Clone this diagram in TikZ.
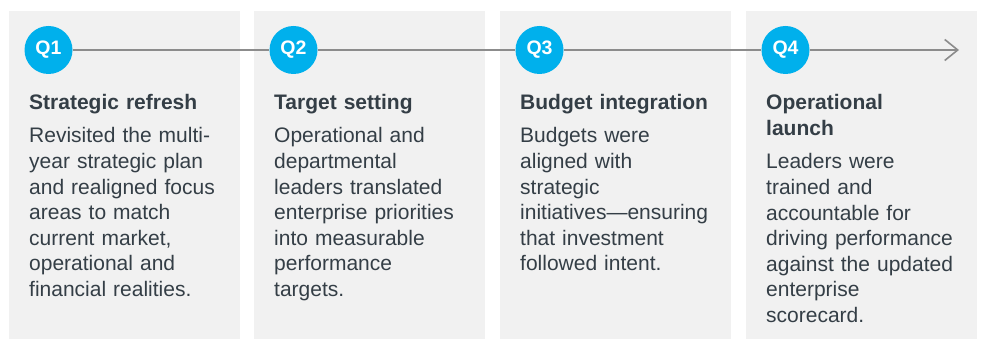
\documentclass[tikz,border=0pt]{standalone}
\usepackage{fontspec}
\setmainfont{Liberation Sans}
\usepackage{tikz}
\usetikzlibrary{positioning}
\usetikzlibrary{arrows.meta}

\definecolor{panelgray}{HTML}{F1F1F1}
\definecolor{qcyan}{HTML}{00B0EC}
\definecolor{linegray}{HTML}{8C8C8C}
\definecolor{slate}{HTML}{343E46}

\begin{document}
\begin{tikzpicture}[x=1pt,y=1pt,
  panel/.style={fill=panelgray,draw=none},
  qmark/.style={circle,fill=qcyan,text=white,minimum size=48pt,inner sep=0pt,font=\fontsize{19.5}{21}\selectfont\bfseries},
  timeline/.style={draw=linegray,line width=2pt},
  phase/.style={font=\fontsize{21}{26}\selectfont\bfseries,text=slate,inner sep=0pt,text width=205pt,align=left,anchor=base west},
  detail/.style={font=\fontsize{21}{25.6}\selectfont,text=slate,inner sep=0pt,text width=205pt,align=left}]
\useasboundingbox (0,0) rectangle (981,339);

% panels
\fill[panel] (9,0) rectangle (240,328);
\fill[panel] (254,0) rectangle (485,328);
\fill[panel] (500,0) rectangle (731,328);
\fill[panel] (746,0) rectangle (977,328);

% quarters
\node[qmark] (q1) at (48.5,289) {Q1};
\node[qmark] (q2) at (293.5,289) {Q2};
\node[qmark] (q3) at (539.5,289) {Q3};
\node[qmark] (q4) at (785.5,289) {Q4};
\coordinate (tip) at (959,289);
\foreach \a/\b in {q1/q2,q2/q3,q3/q4}
  \draw[timeline] (\a) -- (\b);
\draw[timeline,-{Straight Barb[length=13pt,width=21pt,line width=1.6pt]}] (q4) -- (tip);

% titles
\node[phase] (t1) at (29,229) {Strategic refresh};
\node[phase] (t2) at (274,229) {Target setting};
\node[phase] (t3) at (520,229) {Budget integration};
\node[phase] (t4) at (766,229) {Operational\\launch};

% text
\node[detail,below=33pt of t1.base west,anchor=base west] (d1) {Revisited the multi-\\year strategic plan\\and realigned focus\\areas to match\\current market,\\operational and\\financial realities.};
\node[detail,below=33pt of t2.base west,anchor=base west] (d2) {Operational and\\departmental\\leaders translated\\enterprise priorities\\into measurable\\performance\\targets.};
\node[detail,below=33pt of t3.base west,anchor=base west] (d3) {Budgets were\\aligned with\\strategic\\initiatives—ensuring\\that investment\\followed intent.};
\node[detail,below=59pt of t4.base west,anchor=base west] (d4) {Leaders were\\trained and\\accountable for\\driving performance\\against the updated\\enterprise\\scorecard.};

\end{tikzpicture}
\end{document}
